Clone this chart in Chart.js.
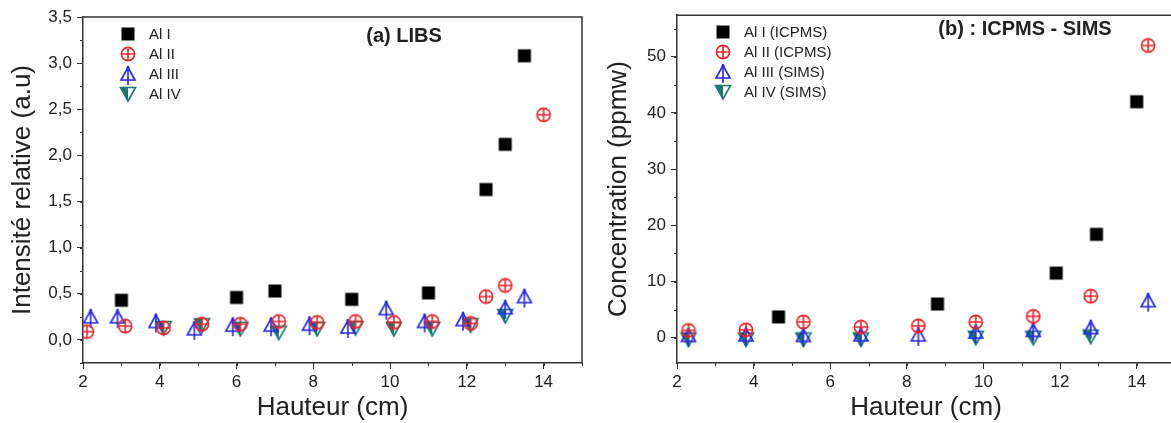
<!DOCTYPE html>
<html>
<head>
<meta charset="utf-8">
<script src="https://cdn.jsdelivr.net/npm/chart.js@4.4.1/dist/chart.umd.min.js"></script>
<style>
  body { margin: 0; background: #fff; overflow: hidden; width: 1171px; height: 423px; position: relative; }
  #libsChart { position: absolute; left: 0; top: 0; }
  #icpmsChart { position: absolute; left: 590px; top: 0; }
</style>
</head>
<body>
<canvas id="libsChart" width="590" height="423"></canvas>
<canvas id="icpmsChart" width="600" height="423"></canvas>
<script>
// (a) LIBS - relative intensity vs height
const libsAlI_x = [3, 6, 7, 9, 11, 12.5, 13, 13.5];
const libsAlI_y = [0.43, 0.46, 0.53, 0.44, 0.51, 1.63, 2.12, 3.08];
const libsAlII_x = [2.1, 3.1, 4.1, 5.1, 6.1, 7.1, 8.1, 9.1, 10.1, 11.1, 12.1, 12.5, 13, 14];
const libsAlII_y = [0.09, 0.15, 0.13, 0.17, 0.17, 0.2, 0.19, 0.2, 0.19, 0.2, 0.18, 0.47, 0.59, 2.44];
const libsAlIII_x = [2.2, 2.9, 3.9, 4.9, 5.9, 6.9, 7.9, 8.9, 9.9, 10.9, 11.9, 13, 13.5];
const libsAlIII_y = [0.25, 0.25, 0.2, 0.12, 0.16, 0.16, 0.17, 0.14, 0.34, 0.2, 0.22, 0.35, 0.47];
const libsAlIV_x = [4.1, 5.1, 6.1, 7.1, 8.1, 9.1, 10.1, 11.1, 12.1, 13];
const libsAlIV_y = [0.13, 0.16, 0.12, 0.08, 0.12, 0.13, 0.12, 0.12, 0.16, 0.26];

// (b) ICPMS - SIMS - concentration vs height
const icpAlI_x = [4.65, 8.8, 11.9, 12.95, 14.0];
const icpAlI_y = [3.7, 6.0, 11.5, 18.4, 42];
const icpAlII_x = [2.3, 3.8, 5.3, 6.8, 8.3, 9.8, 11.3, 12.8, 14.3];
const icpAlII_y = [1.3, 1.4, 2.8, 1.9, 2.1, 2.8, 3.8, 7.4, 52];
const simsAlIII_x = [2.3, 3.8, 5.3, 6.8, 8.3, 9.8, 11.3, 12.8, 14.3];
const simsAlIII_y = [0.4, 0.5, 0.4, 0.5, 0.5, 1.0, 1.3, 1.8, 6.6];
const simsAlIV_x = [2.3, 3.8, 5.3, 6.8, 9.8, 11.3, 12.8];
const simsAlIV_y = [-0.3, -0.3, -0.3, -0.3, 0.0, 0.0, 0.2];

const libsLabels = ['Al I', 'Al II', 'Al III', 'Al IV'];
const icpLabels = ['Al I (ICPMS)', 'Al II (ICPMS)', 'Al III (SIMS)', 'Al IV (SIMS)'];

const FONT = "'Liberation Sans', Arial, sans-serif";
const AXIS = '#333';
const RED = '#e8262b';
const BLUE = '#2424e6';
const TEAL = '#177a70';

// Origin-like symbols drawn on small canvases, used as pointStyle
function marker(kind, color) {
  const c = document.createElement('canvas');
  c.width = 20; c.height = 24;
  const g = c.getContext('2d');
  g.strokeStyle = color; g.fillStyle = color; g.lineWidth = 1.6;
  if (kind === 'square') {
    g.fillRect(3.5, 5.5, 13, 13);
  } else if (kind === 'crossCircle') {
    g.beginPath(); g.arc(10, 12, 6.6, 0, Math.PI * 2); g.stroke();
    g.beginPath();
    g.moveTo(3.4, 12); g.lineTo(16.6, 12);
    g.moveTo(10, 5.4); g.lineTo(10, 18.6);
    g.stroke();
  } else if (kind === 'triStem') {
    g.beginPath(); g.moveTo(10, 5.5); g.lineTo(17, 18); g.lineTo(3, 18); g.closePath(); g.stroke();
    g.beginPath(); g.moveTo(10, 4.5); g.lineTo(10, 23); g.stroke();
    g.beginPath(); g.arc(10, 5.5, 1.4, 0, Math.PI * 2); g.fill();
  } else if (kind === 'halfDown') {
    g.beginPath(); g.moveTo(2.5, 5.5); g.lineTo(10, 5.5); g.lineTo(10, 19); g.closePath(); g.fill();
    g.beginPath(); g.moveTo(2.5, 5.5); g.lineTo(17.5, 5.5); g.lineTo(10, 19); g.closePath(); g.stroke();
  }
  return c;
}

const styles = [
  marker('square', '#000'),
  marker('crossCircle', RED),
  marker('triStem', BLUE),
  marker('halfDown', TEAL)
];

function pts(xs, ys) {
  return xs.map((x, i) => ({ x: x, y: ys[i] }));
}

function makeDatasets(labels, series) {
  return series.map((s, i) => ({
    label: labels[i],
    data: pts(s[0], s[1]),
    pointStyle: styles[i],
    pointRadius: 7,
    showLine: false
  }));
}

// frame, minor ticks, inset legend and panel title
const decoPlugin = {
  id: 'deco',
  afterDraw(chart, args, opts) {
    const ctx = chart.ctx;
    const a = chart.chartArea;
    const xs = chart.scales.x, ys = chart.scales.y;
    ctx.save();
    ctx.strokeStyle = AXIS;
    ctx.lineWidth = 1.5;
    ctx.beginPath();
    ctx.moveTo(a.left, a.top); ctx.lineTo(a.right, a.top); ctx.lineTo(a.right, a.bottom);
    ctx.stroke();

    ctx.lineWidth = 1;
    ctx.beginPath();
    for (let v = Math.ceil(xs.min / opts.minorX) * opts.minorX; v <= xs.max + 1e-9; v += opts.minorX) {
      const px = Math.round(xs.getPixelForValue(v)) + 0.5;
      ctx.moveTo(px, a.bottom); ctx.lineTo(px, a.bottom + 3);
    }
    for (let v = Math.ceil(ys.min / opts.minorY) * opts.minorY; v <= ys.max + 1e-9; v += opts.minorY) {
      const py = Math.round(ys.getPixelForValue(v)) + 0.5;
      ctx.moveTo(a.left, py); ctx.lineTo(a.left - 3, py);
    }
    ctx.stroke();

    ctx.fillStyle = '#222';
    ctx.font = '15px ' + FONT;
    ctx.textBaseline = 'middle';
    ctx.textAlign = 'left';
    chart.data.datasets.forEach((ds, i) => {
      const y = opts.legendY + i * 20;
      const img = ds.pointStyle;
      ctx.drawImage(img, Math.round(opts.legendX - img.width / 2), Math.round(y - img.height / 2));
      ctx.fillText(ds.label, opts.legendX + 21, y + 1);
    });

    ctx.font = 'bold 20px ' + FONT;
    ctx.textAlign = 'center';
    ctx.fillText(opts.title, opts.titleX, opts.titleY);
    ctx.restore();
  }
};

function axisOptions(cfg) {
  const tickFont = { family: FONT, size: 17 };
  return {
    x: {
      type: 'linear',
      min: 2, max: 15,
      afterFit: s => { s.height = 60; },
      border: { color: AXIS, width: 1.5 },
      grid: { drawOnChartArea: false, tickLength: 6, color: AXIS, tickColor: AXIS },
      ticks: { stepSize: 2, includeBounds: false, color: '#222', font: tickFont, padding: 3, maxRotation: 0 },
      title: { display: true, text: 'Hauteur (cm)', color: '#222', font: { family: FONT, size: 26 }, padding: { top: 0, bottom: 0 } }
    },
    y: {
      type: 'linear',
      min: cfg.yMin, max: cfg.yMax,
      afterFit: s => { s.width = cfg.yWidth; },
      border: { color: AXIS, width: 1.5 },
      grid: { drawOnChartArea: false, tickLength: 6, color: AXIS, tickColor: AXIS },
      ticks: { stepSize: cfg.yStep, includeBounds: false, color: '#222', font: tickFont, padding: 5, callback: cfg.fmt },
      title: { display: true, text: cfg.yTitle, color: '#222', font: { family: FONT, size: 26 }, padding: { top: cfg.titlePad, bottom: 0 } }
    }
  };
}

new Chart(document.getElementById('libsChart'), {
  type: 'scatter',
  data: {
    datasets: makeDatasets(libsLabels, [
      [libsAlI_x, libsAlI_y],
      [libsAlII_x, libsAlII_y],
      [libsAlIII_x, libsAlIII_y],
      [libsAlIV_x, libsAlIV_y]
    ])
  },
  options: {
    responsive: false,
    animation: false,
    layout: { padding: { left: 0, right: 6, top: 17, bottom: 0 } },
    scales: axisOptions({
      yMin: -0.25, yMax: 3.5, yStep: 0.5, yWidth: 83, titlePad: 7,
      yTitle: 'Intensité relative (a.u)',
      fmt: v => v.toFixed(1).replace('.', ',')
    }),
    plugins: {
      legend: { display: false },
      tooltip: { enabled: false },
      deco: { title: '(a) LIBS', titleX: 404, titleY: 36, legendX: 128, legendY: 34, minorX: 1, minorY: 0.25 }
    }
  },
  plugins: [decoPlugin]
});

new Chart(document.getElementById('icpmsChart'), {
  type: 'scatter',
  data: {
    datasets: makeDatasets(icpLabels, [
      [icpAlI_x, icpAlI_y],
      [icpAlII_x, icpAlII_y],
      [simsAlIII_x, simsAlIII_y],
      [simsAlIV_x, simsAlIV_y]
    ])
  },
  options: {
    responsive: false,
    animation: false,
    layout: { padding: { left: 0, right: 15, top: 13, bottom: 0 } },
    scales: axisOptions({
      yMin: -4.5, yMax: 57.4, yStep: 10, yWidth: 87, titlePad: 13,
      yTitle: 'Concentration (ppmw)',
      fmt: v => String(v)
    }),
    plugins: {
      legend: { display: false },
      tooltip: { enabled: false },
      deco: { title: '(b) : ICPMS - SIMS', titleX: 435, titleY: 29, legendX: 133, legendY: 32, minorX: 1, minorY: 5 }
    }
  },
  plugins: [decoPlugin]
});
</script>
</body>
</html>
